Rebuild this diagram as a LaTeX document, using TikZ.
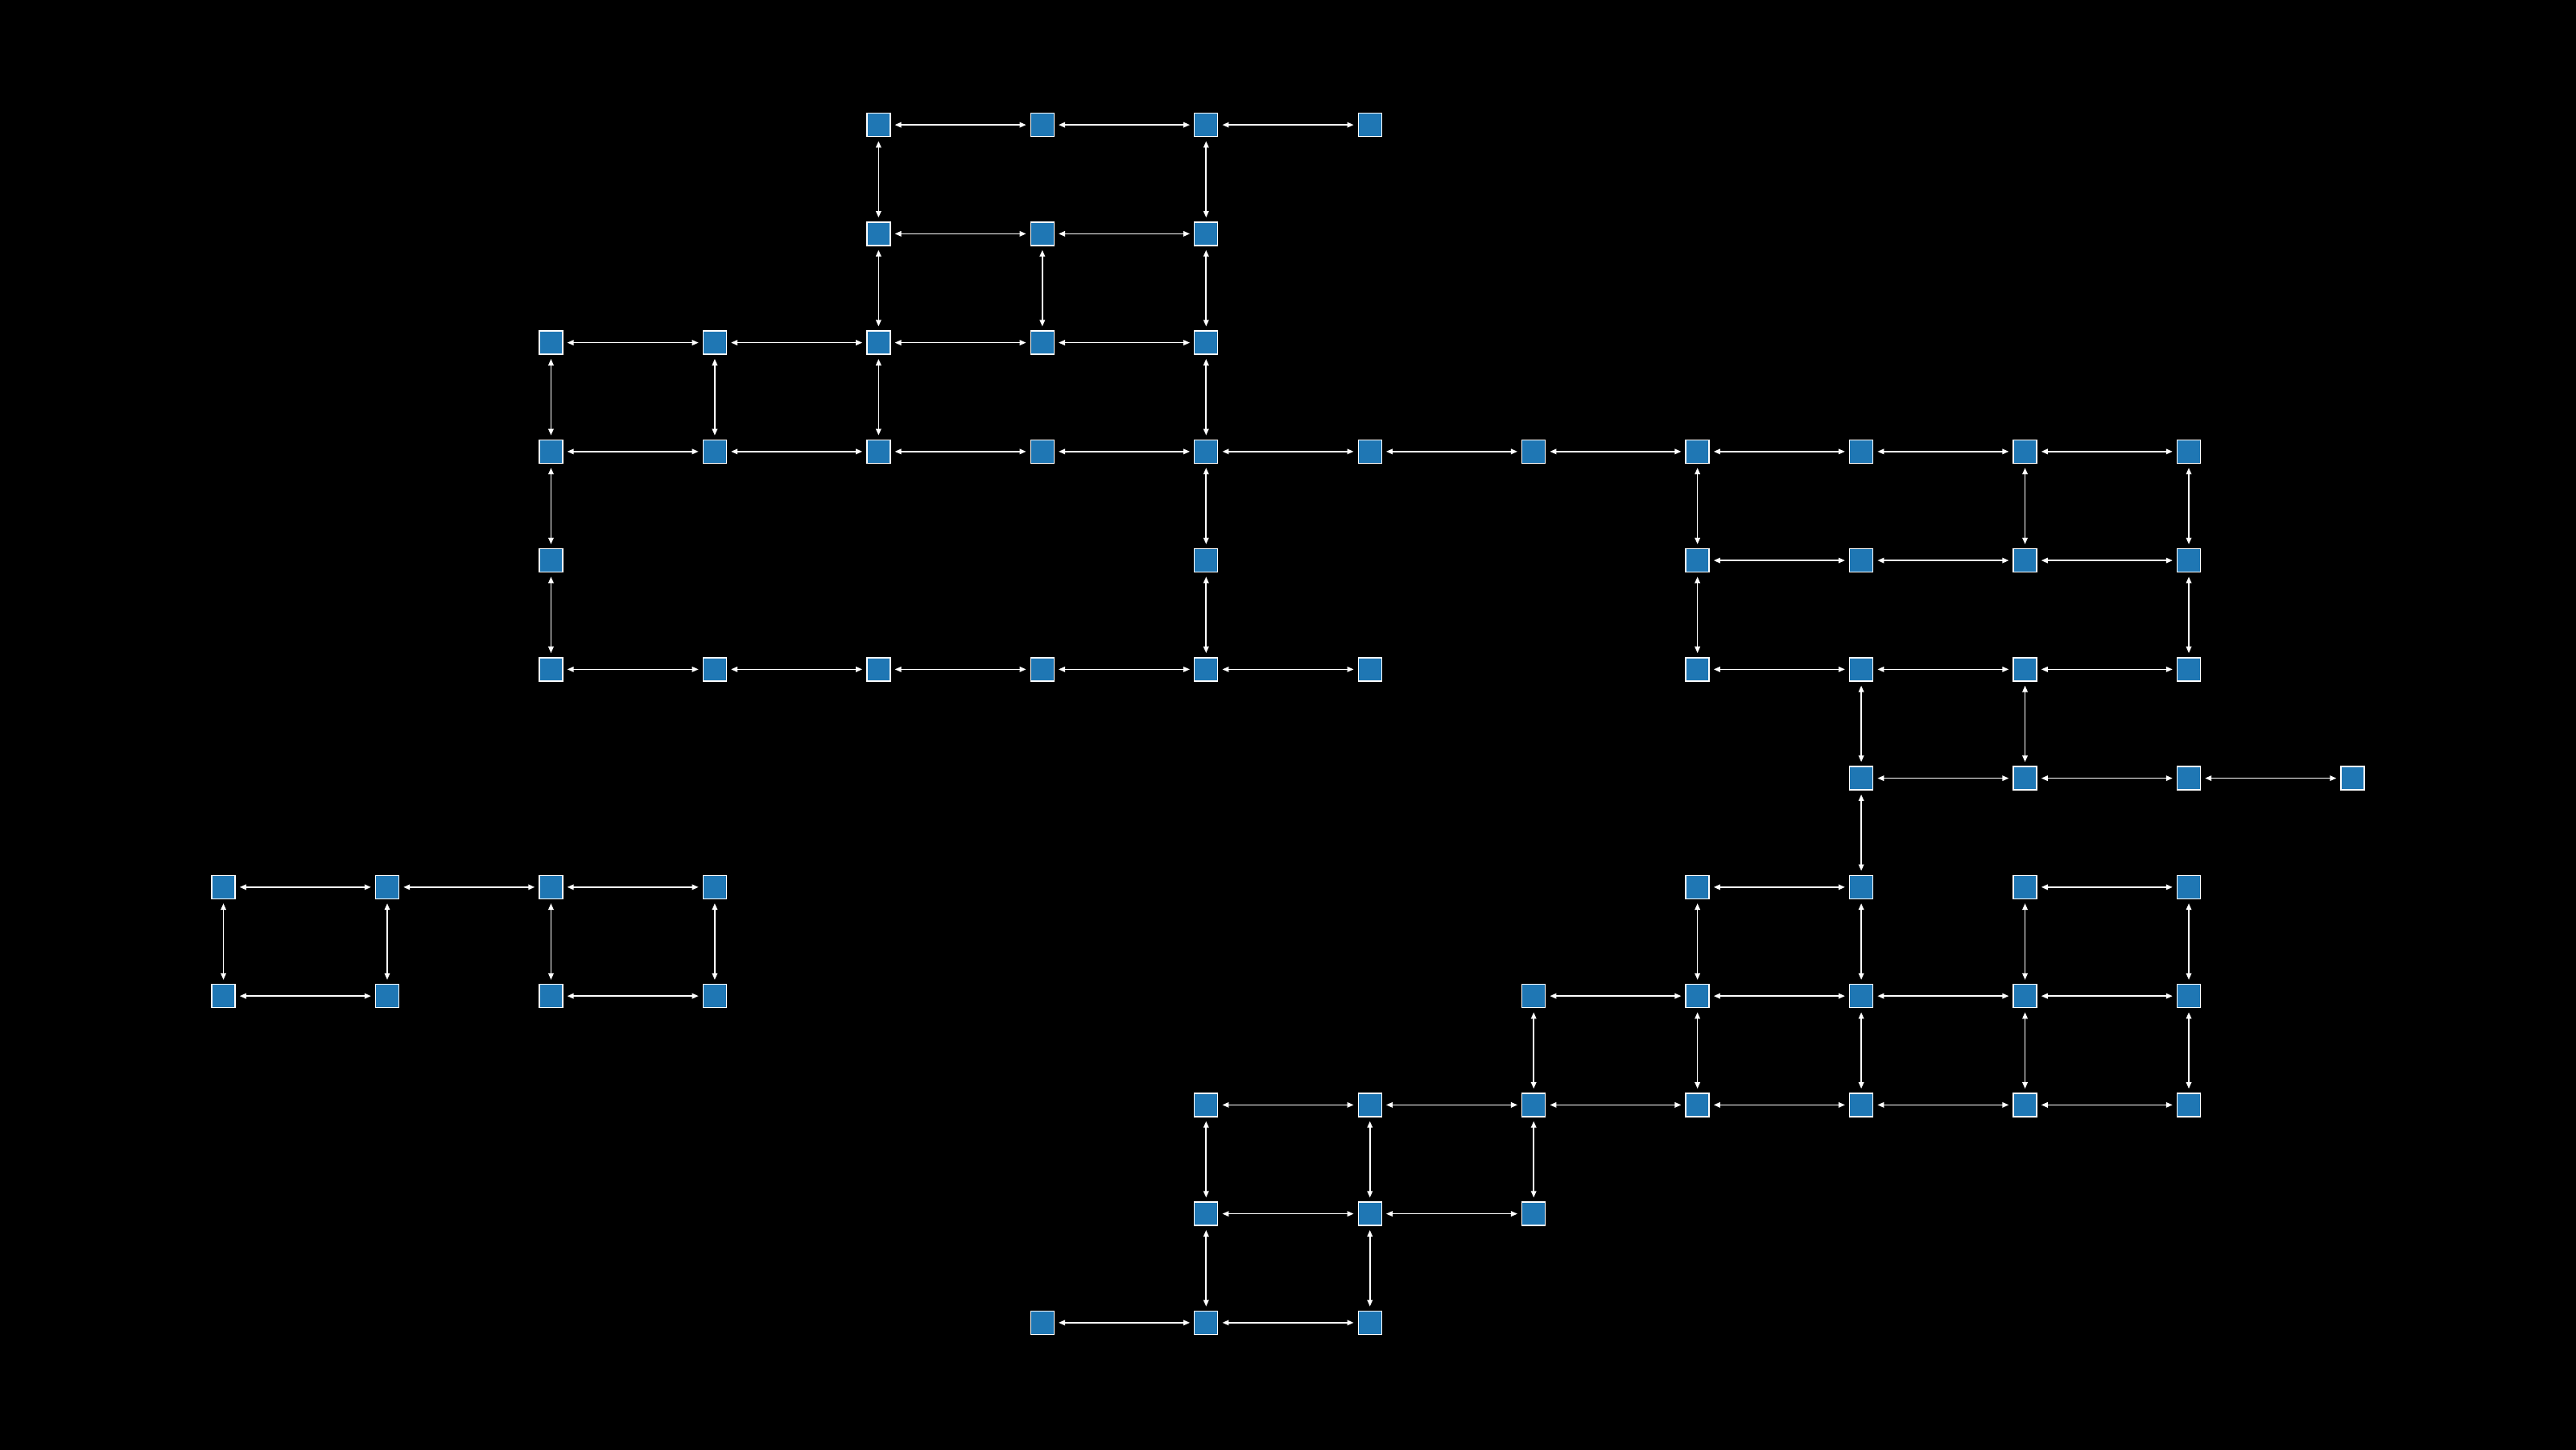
\documentclass[tikz,border=0pt]{standalone}
\usetikzlibrary{arrows.meta}
\definecolor{cellblue}{RGB}{31,119,180}
\tikzset{
  cell/.style={rectangle, draw=white, fill=cellblue, line width=0.4pt,
    minimum size=0.29cm, inner sep=0pt},
  link/.style={white, line width=0.45pt, shorten <=0.05cm, shorten >=0.05cm},
  >={Triangle[length=0.08cm,width=0.065cm]}
}
\begin{document}
\begin{tikzpicture}[x=2.0345cm, y=-1.3525cm, every node/.style={cell}]
      \useasboundingbox (-1.3642,-1.1468) rectangle (14.3642,12.1618);
      \fill[black] (-1.5,-1.3) rectangle (14.5,12.3);
      \path
        (4,0) node (0-4){} (5,0) node (0-5){} (6,0) node (0-6){} (7,0) node (0-7){}
        (4,1) node (1-4){} (5,1) node (1-5){} (6,1) node (1-6){}
        (2,2) node (2-2){} (3,2) node (2-3){} (4,2) node (2-4){} (5,2) node (2-5){}
        (6,2) node (2-6){}
        (2,3) node (3-2){} (3,3) node (3-3){} (4,3) node (3-4){} (5,3) node (3-5){}
        (6,3) node (3-6){} (7,3) node (3-7){} (8,3) node (3-8){} (9,3) node (3-9){}
        (10,3) node (3-10){} (11,3) node (3-11){} (12,3) node (3-12){}
        (2,4) node (4-2){} (6,4) node (4-6){} (9,4) node (4-9){} (10,4) node (4-10){}
        (11,4) node (4-11){} (12,4) node (4-12){}
        (2,5) node (5-2){} (3,5) node (5-3){} (4,5) node (5-4){} (5,5) node (5-5){}
        (6,5) node (5-6){} (7,5) node (5-7){} (9,5) node (5-9){} (10,5) node (5-10){}
        (11,5) node (5-11){} (12,5) node (5-12){}
        (10,6) node (6-10){} (11,6) node (6-11){} (12,6) node (6-12){} (13,6) node (6-13){}
        (0,7) node (7-0){} (1,7) node (7-1){} (2,7) node (7-2){} (3,7) node (7-3){}
        (9,7) node (7-9){} (10,7) node (7-10){} (11,7) node (7-11){} (12,7) node (7-12){}
        (0,8) node (8-0){} (1,8) node (8-1){} (2,8) node (8-2){} (3,8) node (8-3){}
        (8,8) node (8-8){} (9,8) node (8-9){} (10,8) node (8-10){} (11,8) node (8-11){}
        (12,8) node (8-12){}
        (6,9) node (9-6){} (7,9) node (9-7){} (8,9) node (9-8){} (9,9) node (9-9){}
        (10,9) node (9-10){} (11,9) node (9-11){} (12,9) node (9-12){}
        (6,10) node (10-6){} (7,10) node (10-7){} (8,10) node (10-8){}
        (5,11) node (11-5){} (6,11) node (11-6){} (7,11) node (11-7){};
      \begin{scope}[link, <->]
        % across
        \draw (0-4) to (0-5);
        \draw (0-5) to (0-6);
        \draw (0-6) to (0-7);
        \draw (1-4) to (1-5);
        \draw (1-5) to (1-6);
        \draw (2-2) to (2-3);
        \draw (2-3) to (2-4);
        \draw (2-4) to (2-5);
        \draw (2-5) to (2-6);
        \draw (3-2) to (3-3);
        \draw (3-3) to (3-4);
        \draw (3-4) to (3-5);
        \draw (3-5) to (3-6);
        \draw (3-6) to (3-7);
        \draw (3-7) to (3-8);
        \draw (3-8) to (3-9);
        \draw (3-9) to (3-10);
        \draw (3-10) to (3-11);
        \draw (3-11) to (3-12);
        \draw (4-9) to (4-10);
        \draw (4-10) to (4-11);
        \draw (4-11) to (4-12);
        \draw (5-2) to (5-3);
        \draw (5-3) to (5-4);
        \draw (5-4) to (5-5);
        \draw (5-5) to (5-6);
        \draw (5-6) to (5-7);
        \draw (5-9) to (5-10);
        \draw (5-10) to (5-11);
        \draw (5-11) to (5-12);
        \draw (6-10) to (6-11);
        \draw (6-11) to (6-12);
        \draw (6-12) to (6-13);
        \draw (7-0) to (7-1);
        \draw (7-1) to (7-2);
        \draw (7-2) to (7-3);
        \draw (7-9) to (7-10);
        \draw (7-11) to (7-12);
        \draw (8-0) to (8-1);
        \draw (8-2) to (8-3);
        \draw (8-8) to (8-9);
        \draw (8-9) to (8-10);
        \draw (8-10) to (8-11);
        \draw (8-11) to (8-12);
        \draw (9-6) to (9-7);
        \draw (9-7) to (9-8);
        \draw (9-8) to (9-9);
        \draw (9-9) to (9-10);
        \draw (9-10) to (9-11);
        \draw (9-11) to (9-12);
        \draw (10-6) to (10-7);
        \draw (10-7) to (10-8);
        \draw (11-5) to (11-6);
        \draw (11-6) to (11-7);
        % down
        \draw (0-4) to (1-4);
        \draw (0-6) to (1-6);
        \draw (1-4) to (2-4);
        \draw (1-5) to (2-5);
        \draw (1-6) to (2-6);
        \draw (2-2) to (3-2);
        \draw (2-3) to (3-3);
        \draw (2-4) to (3-4);
        \draw (2-6) to (3-6);
        \draw (3-2) to (4-2);
        \draw (3-6) to (4-6);
        \draw (3-9) to (4-9);
        \draw (3-11) to (4-11);
        \draw (3-12) to (4-12);
        \draw (4-2) to (5-2);
        \draw (4-6) to (5-6);
        \draw (4-9) to (5-9);
        \draw (4-12) to (5-12);
        \draw (5-10) to (6-10);
        \draw (5-11) to (6-11);
        \draw (6-10) to (7-10);
        \draw (7-0) to (8-0);
        \draw (7-1) to (8-1);
        \draw (7-2) to (8-2);
        \draw (7-3) to (8-3);
        \draw (7-9) to (8-9);
        \draw (7-10) to (8-10);
        \draw (7-11) to (8-11);
        \draw (7-12) to (8-12);
        \draw (8-8) to (9-8);
        \draw (8-9) to (9-9);
        \draw (8-10) to (9-10);
        \draw (8-11) to (9-11);
        \draw (8-12) to (9-12);
        \draw (9-6) to (10-6);
        \draw (9-7) to (10-7);
        \draw (9-8) to (10-8);
        \draw (10-6) to (11-6);
        \draw (10-7) to (11-7);
      \end{scope}
    \end{tikzpicture}
\end{document}
